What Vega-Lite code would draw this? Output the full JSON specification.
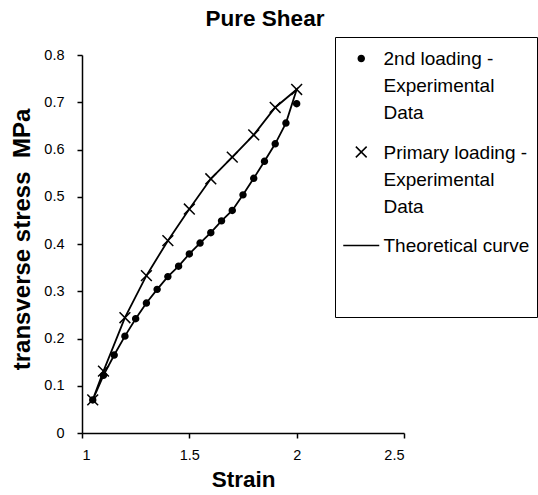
{
  "$schema": "https://vega.github.io/schema/vega-lite/v6.json",
  "width": 322,
  "height": 378,
  "autosize": {"type": "none"},
  "padding": {"left": 82, "top": 55, "right": 134, "bottom": 62},
  "title": {"text": "Pure Shear", "font": "Liberation Sans", "fontSize": 22.5, "fontWeight": "bold", "color": "black", "frame": "group", "anchor": "middle", "dx": 22, "baseline": "alphabetic", "offset": -12},
  "data": {"values": [
    {"series": "2nd loading - Experimental Data", "strain": 1.05, "stress": 0.07},
    {"series": "2nd loading - Experimental Data", "strain": 1.10, "stress": 0.122},
    {"series": "2nd loading - Experimental Data", "strain": 1.15, "stress": 0.165},
    {"series": "2nd loading - Experimental Data", "strain": 1.20, "stress": 0.205},
    {"series": "2nd loading - Experimental Data", "strain": 1.25, "stress": 0.242},
    {"series": "2nd loading - Experimental Data", "strain": 1.30, "stress": 0.275},
    {"series": "2nd loading - Experimental Data", "strain": 1.35, "stress": 0.304},
    {"series": "2nd loading - Experimental Data", "strain": 1.40, "stress": 0.331},
    {"series": "2nd loading - Experimental Data", "strain": 1.45, "stress": 0.353},
    {"series": "2nd loading - Experimental Data", "strain": 1.50, "stress": 0.379},
    {"series": "2nd loading - Experimental Data", "strain": 1.55, "stress": 0.402},
    {"series": "2nd loading - Experimental Data", "strain": 1.60, "stress": 0.424},
    {"series": "2nd loading - Experimental Data", "strain": 1.65, "stress": 0.449},
    {"series": "2nd loading - Experimental Data", "strain": 1.70, "stress": 0.471},
    {"series": "2nd loading - Experimental Data", "strain": 1.75, "stress": 0.504},
    {"series": "2nd loading - Experimental Data", "strain": 1.80, "stress": 0.539},
    {"series": "2nd loading - Experimental Data", "strain": 1.85, "stress": 0.575},
    {"series": "2nd loading - Experimental Data", "strain": 1.90, "stress": 0.612},
    {"series": "2nd loading - Experimental Data", "strain": 1.95, "stress": 0.656},
    {"series": "2nd loading - Experimental Data", "strain": 2.00, "stress": 0.697},
    {"series": "Primary loading - Experimental Data", "strain": 1.05, "stress": 0.07},
    {"series": "Primary loading - Experimental Data", "strain": 1.10, "stress": 0.131},
    {"series": "Primary loading - Experimental Data", "strain": 1.20, "stress": 0.244},
    {"series": "Primary loading - Experimental Data", "strain": 1.30, "stress": 0.333},
    {"series": "Primary loading - Experimental Data", "strain": 1.40, "stress": 0.407},
    {"series": "Primary loading - Experimental Data", "strain": 1.50, "stress": 0.474},
    {"series": "Primary loading - Experimental Data", "strain": 1.60, "stress": 0.538},
    {"series": "Primary loading - Experimental Data", "strain": 1.70, "stress": 0.584},
    {"series": "Primary loading - Experimental Data", "strain": 1.80, "stress": 0.631},
    {"series": "Primary loading - Experimental Data", "strain": 1.90, "stress": 0.689},
    {"series": "Primary loading - Experimental Data", "strain": 2.00, "stress": 0.727},
    {"series": "Theoretical curve", "seq": 1, "strain": 1.05, "stress": 0.07},
    {"series": "Theoretical curve", "seq": 2, "strain": 1.10, "stress": 0.122},
    {"series": "Theoretical curve", "seq": 3, "strain": 1.15, "stress": 0.165},
    {"series": "Theoretical curve", "seq": 4, "strain": 1.20, "stress": 0.205},
    {"series": "Theoretical curve", "seq": 5, "strain": 1.25, "stress": 0.242},
    {"series": "Theoretical curve", "seq": 6, "strain": 1.30, "stress": 0.275},
    {"series": "Theoretical curve", "seq": 7, "strain": 1.35, "stress": 0.304},
    {"series": "Theoretical curve", "seq": 8, "strain": 1.40, "stress": 0.331},
    {"series": "Theoretical curve", "seq": 9, "strain": 1.45, "stress": 0.353},
    {"series": "Theoretical curve", "seq": 10, "strain": 1.50, "stress": 0.379},
    {"series": "Theoretical curve", "seq": 11, "strain": 1.55, "stress": 0.402},
    {"series": "Theoretical curve", "seq": 12, "strain": 1.60, "stress": 0.424},
    {"series": "Theoretical curve", "seq": 13, "strain": 1.65, "stress": 0.449},
    {"series": "Theoretical curve", "seq": 14, "strain": 1.70, "stress": 0.471},
    {"series": "Theoretical curve", "seq": 15, "strain": 1.75, "stress": 0.504},
    {"series": "Theoretical curve", "seq": 16, "strain": 1.80, "stress": 0.539},
    {"series": "Theoretical curve", "seq": 17, "strain": 1.85, "stress": 0.575},
    {"series": "Theoretical curve", "seq": 18, "strain": 1.90, "stress": 0.612},
    {"series": "Theoretical curve", "seq": 19, "strain": 1.95, "stress": 0.656},
    {"series": "Theoretical curve", "seq": 20, "strain": 2.00, "stress": 0.727},
    {"series": "Theoretical curve", "seq": 21, "strain": 1.90, "stress": 0.689},
    {"series": "Theoretical curve", "seq": 22, "strain": 1.80, "stress": 0.631},
    {"series": "Theoretical curve", "seq": 23, "strain": 1.70, "stress": 0.584},
    {"series": "Theoretical curve", "seq": 24, "strain": 1.60, "stress": 0.538},
    {"series": "Theoretical curve", "seq": 25, "strain": 1.50, "stress": 0.474},
    {"series": "Theoretical curve", "seq": 26, "strain": 1.40, "stress": 0.407},
    {"series": "Theoretical curve", "seq": 27, "strain": 1.30, "stress": 0.333},
    {"series": "Theoretical curve", "seq": 28, "strain": 1.20, "stress": 0.244},
    {"series": "Theoretical curve", "seq": 29, "strain": 1.10, "stress": 0.131},
    {"series": "Theoretical curve", "seq": 30, "strain": 1.05, "stress": 0.07}
  ]},
  "layer": [
    {
      "transform": [{"filter": "datum.series == 'Theoretical curve'"}],
      "mark": {"type": "line", "color": "black", "strokeWidth": 1.8},
      "encoding": {
        "x": {"field": "strain", "type": "quantitative", "scale": {"domain": [1, 2.5], "nice": false}, "axis": {"title": "Strain", "values": [1, 1.5, 2, 2.5], "format": "~g"}},
        "y": {"field": "stress", "type": "quantitative", "scale": {"domain": [0, 0.8], "nice": false}, "axis": {"title": "transverse stress \u00a0MPa", "titleFontSize": 24, "titlePadding": 9, "titleY": 184, "values": [0, 0.1, 0.2, 0.3, 0.4, 0.5, 0.6, 0.7, 0.8], "format": "~g"}},
        "order": {"field": "seq", "type": "quantitative"}
      }
    },
    {
      "transform": [{"filter": "datum.series != 'Theoretical curve'"}],
      "mark": {"type": "point", "stroke": "black", "strokeWidth": 1.5, "opacity": 1, "size": 729},
      "encoding": {
        "x": {"field": "strain", "type": "quantitative"},
        "y": {"field": "stress", "type": "quantitative"},
        "shape": {
          "field": "series", "type": "nominal",
          "scale": {"domain": ["2nd loading - Experimental Data", "Primary loading - Experimental Data", "Theoretical curve"], "range": ["M-0.22,0A0.22,0.22,0,1,1,0.22,0A0.22,0.22,0,1,1,-0.22,0Z", "M-0.4,-0.4L0.4,0.4M-0.4,0.4L0.4,-0.4", "M-1.3333,0L1.3333,0"]},
          "legend": {
            "title": null,
            "orient": "none", "legendX": 253, "legendY": -18, "direction": "vertical",
            "padding": 7, "strokeColor": "black", "fillColor": "white",
            "rowPadding": 14.5, "labelFont": "Liberation Sans", "labelFontSize": 19, "labelColor": "black",
            "symbolSize": 729, "symbolOffset": 4.75, "labelOffset": 7.75, "labelLimit": 300, "labelBaseline": "top",
            "labelExpr": "datum.label == 'Theoretical curve' ? ['Theoretical curve', '', ''] : [split(datum.label, ' - ')[0] + ' -', 'Experimental', 'Data']",
            "symbolStrokeColor": "black", "symbolStrokeWidth": 1.5,
            "encoding": {
              "labels": {"lineHeight": {"value": 27}, "dy": {"value": -8.5}},
              "symbols": {"stroke": {"value": "black"}, "strokeWidth": {"value": 1.5}}
            }
          }
        },
        "fill": {
          "field": "series", "type": "nominal",
          "scale": {"domain": ["2nd loading - Experimental Data", "Primary loading - Experimental Data", "Theoretical curve"], "range": ["black", "transparent", "transparent"]}
        }
      }
    }
  ],
  "config": {
    "view": {"stroke": null},
    "axis": {
      "grid": false, "domainColor": "black", "domainWidth": 1.5, "tickColor": "black", "tickWidth": 1.5, "tickSize": 5,
      "labelFont": "Liberation Sans", "labelFontSize": 14.5, "labelColor": "black",
      "titleFont": "Liberation Sans", "titleFontSize": 22.5, "titleFontWeight": "bold", "titleColor": "black"
    },
    "axisX": {"labelPadding": 10, "titlePadding": 7},
    "axisY": {"labelPadding": 13}
  }
}
